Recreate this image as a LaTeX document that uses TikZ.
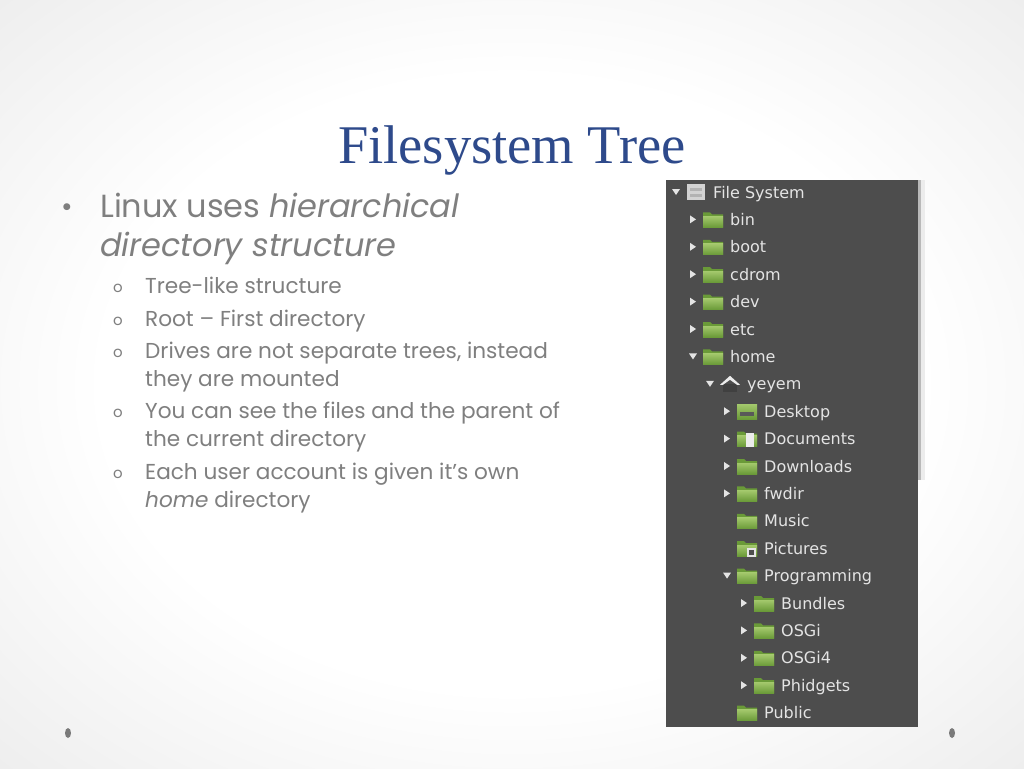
\documentclass[tikz,border=0pt]{standalone}
\usepackage{fontspec}
\setmainfont{Poppins}
\newfontfamily\titlefont{Liberation Serif}
\newfontfamily\treefont{DejaVu Sans}
\usetikzlibrary{positioning}
\definecolor{TitleBlue}{HTML}{2E4A8B}
\definecolor{BodyGray}{HTML}{7F7F7F}
\definecolor{PanelGray}{HTML}{4D4D4D}
\definecolor{TreeText}{HTML}{E4E4E4}
\definecolor{FolderLight}{HTML}{A3C86C}
\definecolor{FolderDark}{HTML}{6A9A38}
\definecolor{DotGray}{HTML}{7A7A7A}
\pgfdeclareradialshading{slideglow}{\pgfpoint{0bp}{0bp}}{color(0bp)=(white); color(20bp)=(white); color(50bp)=(black!13); color(72bp)=(black!18)}
\tikzset{
  % Text styles
  titletext/.style={font=\titlefont\fontsize{54.5}{60}\selectfont, text=TitleBlue, anchor=base, inner sep=0pt},
  mainitem/.style={font=\fontsize{32}{39}\selectfont, text=BodyGray, anchor=base west, inner sep=0pt, align=left},
  subitem/.style={font=\fontsize{21.6}{28}\selectfont, text=BodyGray, anchor=base west, inner sep=0pt, align=left},
  mainmark/.style={font=\fontsize{28}{28}\selectfont, text=BodyGray, inner sep=0pt},
  submark/.style={font=\fontsize{15}{15}\selectfont, text=BodyGray, anchor=base, inner sep=0pt},
  treelabel/.style={font=\treefont\fontsize{16}{18}\selectfont, text=TreeText, anchor=base west, inner sep=0pt},
  % Expander triangles
  pics/expr/.style={code={\fill[TreeText] (-3,-4) -- (3,0) -- (-3,4) -- cycle;}},
  pics/expd/.style={code={\fill[TreeText] (-4,-3) -- (4,-3) -- (0,3) -- cycle;}},
  pics/expn/.style={code={}},
  % Icons
  pics/folder/.style={code={
    \fill[FolderDark] (-10,-7) -- (-3,-7) -- (-1,-5) -- (10,-5) -- (10,8) -- (-10,8) -- cycle;
    \shade[top color=FolderLight, bottom color=FolderDark] (-10,-3) rectangle (10,8);}},
  pics/docs/.style={code={
    \pic {folder};
    \fill[white!85!gray] (-1,-6) rectangle (7,8);}},
  pics/pics/.style={code={
    \pic {folder};
    \fill[white!80!gray] (0,0) rectangle (9,9);
    \fill[PanelGray] (2,2) rectangle (7,7);}},
  pics/desk/.style={code={
    \shade[top color=FolderLight, bottom color=FolderDark] (-10,-7) rectangle (10,8);
    \fill[black!65] (-7,1) rectangle (7,5);}},
  pics/drive/.style={code={
    \fill[gray!35] (-9,-8) rectangle (9,8);
    \fill[gray!60] (-6,-4) rectangle (6,-1);
    \fill[gray!60] (-6,2) rectangle (6,5);}},
  pics/house/.style={code={
    \fill[black!75] (-7,0) rectangle (7,8);
    \fill[white!85!gray] (-10,1) -- (0,-8) -- (10,1) -- (7,1) -- (0,-4) -- (-7,1) -- cycle;}}
}

\begin{document}
\begin{tikzpicture}[x=1pt, y=-1pt]
  \useasboundingbox (0,0) rectangle (1024,768);
  % Slide background
  \shade[shading=slideglow] (0,0) rectangle (1024,768);
  \fill[DotGray] (68,733) ellipse [x radius=3, y radius=5];
  \fill[DotGray] (952,733) ellipse [x radius=3, y radius=5];

  % Title
  \node[titletext] (title) at (512,163) {Filesystem Tree};

  % Bullets (multi-line nodes sit on the baseline of their last line)
  \node[mainmark] (m1) at (67,210) {•};
  \node[mainitem] (linux) at (100,256) {Linux uses \textit{hierarchical}\\\textit{directory structure}};
  \node[submark] (s1) at (118,292) {o};
  \node[subitem] (tree) at (145,293) {Tree-like structure};
  \node[submark] (s2) at (118,325) {o};
  \node[subitem] (root) at (145,326) {Root – First directory};
  \node[submark] (s3) at (118,357) {o};
  \node[subitem] (drives) at (145,386) {Drives are not separate trees, instead\\they are mounted};
  \node[submark] (s4) at (118,417) {o};
  \node[subitem] (files) at (145,446) {You can see the files and the parent of\\the current directory};
  \node[submark] (s5) at (118,478) {o};
  \node[subitem] (home) at (145,507) {Each user account is given it’s own\\\textit{home} directory};

  % File manager panel
  \fill[PanelGray] (666,180) rectangle (918,727);
  \fill[gray!55] (918,180) rectangle (921,480);
  \fill[gray!15] (921,180) rectangle (925,480);
  \foreach \i/\lvl/\ex/\icon/\name in {
      0/0/d/drive/File System, 1/1/r/folder/bin, 2/1/r/folder/boot,
      3/1/r/folder/cdrom, 4/1/r/folder/dev, 5/1/r/folder/etc,
      6/1/d/folder/home, 7/2/d/house/yeyem, 8/3/r/desk/Desktop,
      9/3/r/docs/Documents, 10/3/r/folder/Downloads, 11/3/r/folder/fwdir,
      12/3/n/folder/Music, 13/3/n/pics/Pictures, 14/3/d/folder/Programming,
      15/4/r/folder/Bundles, 16/4/r/folder/OSGi, 17/4/r/folder/OSGi4,
      18/4/r/folder/Phidgets, 19/3/n/folder/Public} {
    \pic at (676+17*\lvl, 192+27.4*\i) {exp\ex};
    \pic at (696+17*\lvl, 192+27.4*\i) {\icon};
    \node[treelabel] (t\i) at (713+17*\lvl, 198+27.4*\i) {\name};
  }
\end{tikzpicture}
\end{document}
